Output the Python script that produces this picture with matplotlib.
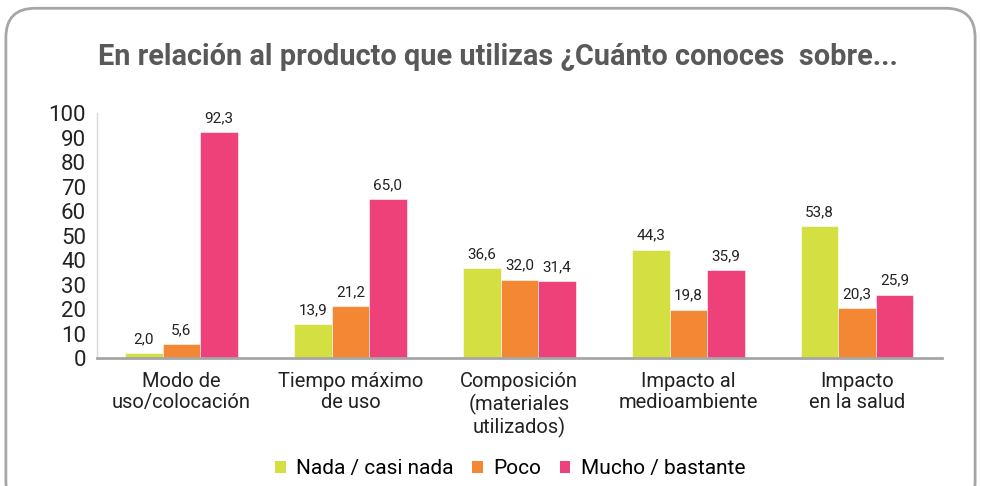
import matplotlib
matplotlib.use("Agg")
import matplotlib.pyplot as plt
from matplotlib.patches import FancyBboxPatch, Patch
from matplotlib import font_manager
import numpy as np

categories = ["Modo de\nuso/colocación", "Tiempo máximo\nde uso", "Composición\n(materiales\nutilizados)",
              "Impacto al\nmedioambiente", "Impacto\nen la salud"]
series_names = ["Nada / casi nada", "Poco", "Mucho / bastante"]
nada = [2.0, 13.9, 36.6, 44.3, 53.8]
poco = [5.6, 21.2, 32.0, 19.8, 20.3]
mucho = [92.3, 65.0, 31.4, 35.9, 25.9]
yticks = [0, 10, 20, 30, 40, 50, 60, 70, 80, 90, 100]
title = "En relación al producto que utilizas ¿Cuánto conoces  sobre..."

colors = ["#D4DF42", "#F38733", "#EE4079"]

names = {f.name for f in font_manager.fontManager.ttflist}
narrow = "Liberation Sans Narrow" if "Liberation Sans Narrow" in names else "Roboto"
plt.rcParams["font.family"] = ["Roboto", "DejaVu Sans"]

fig = plt.figure(figsize=(9.81, 4.86), dpi=100)
fig.patches.append(FancyBboxPatch((0.006, -0.05), 0.988, 1.033, boxstyle="round,pad=0,rounding_size=0.03",
                                  transform=fig.transFigure, fill=False, edgecolor="#A6A6A6", linewidth=2,
                                  mutation_aspect=2.0))

ax = fig.add_axes([0.0989, 0.263, 0.861, 0.5045])
x = np.arange(len(categories))
w = 0.222
for i, (vals, c) in enumerate(zip([nada, poco, mucho], colors)):
    pos = x + (i - 1) * w
    ax.bar(pos, vals, width=w, color=c, edgecolor="white", linewidth=0.4, label=series_names[i])
    for p, v in zip(pos, vals):
        ax.annotate(f"{v:.1f}".replace(".", ","), (p, v), xytext=(0, 5), textcoords="offset points",
                    ha="center", va="bottom", fontsize=11, family=[narrow, "DejaVu Sans"], color="#222222")

ax.set_xlim(-0.5, 4.5)
ax.set_ylim(0, 100)
ax.set_yticks(yticks)
ax.set_yticklabels([str(t) for t in yticks], fontsize=16, color="#222222")
ax.set_xticks(x)
ax.set_xticklabels(categories, fontsize=14.5, color="#222222", linespacing=1.15)
ax.tick_params(axis="both", length=0)
ax.tick_params(axis="x", pad=10)
ax.tick_params(axis="y", pad=8)
for s in ["top", "right"]:
    ax.spines[s].set_visible(False)
ax.spines["left"].set_color("#D9D9D9")
ax.spines["left"].set_linewidth(1)
ax.spines["bottom"].set_color("#A6A6A6")
ax.spines["bottom"].set_linewidth(2)

fig.text(0.508, 0.882, title, ha="center", va="center", fontsize=20.8, fontweight="bold",
         color="#595959", family=[narrow, "DejaVu Sans"])

handles = [Patch(facecolor=c) for c in colors]
fig.legend(handles, series_names, loc="center", bbox_to_anchor=(0.52, 0.036), ncol=3, frameon=False,
           fontsize=15, handlelength=0.5, handleheight=0.5, handletextpad=0.5, columnspacing=0.9)

fig.savefig("out.png", dpi=100)
